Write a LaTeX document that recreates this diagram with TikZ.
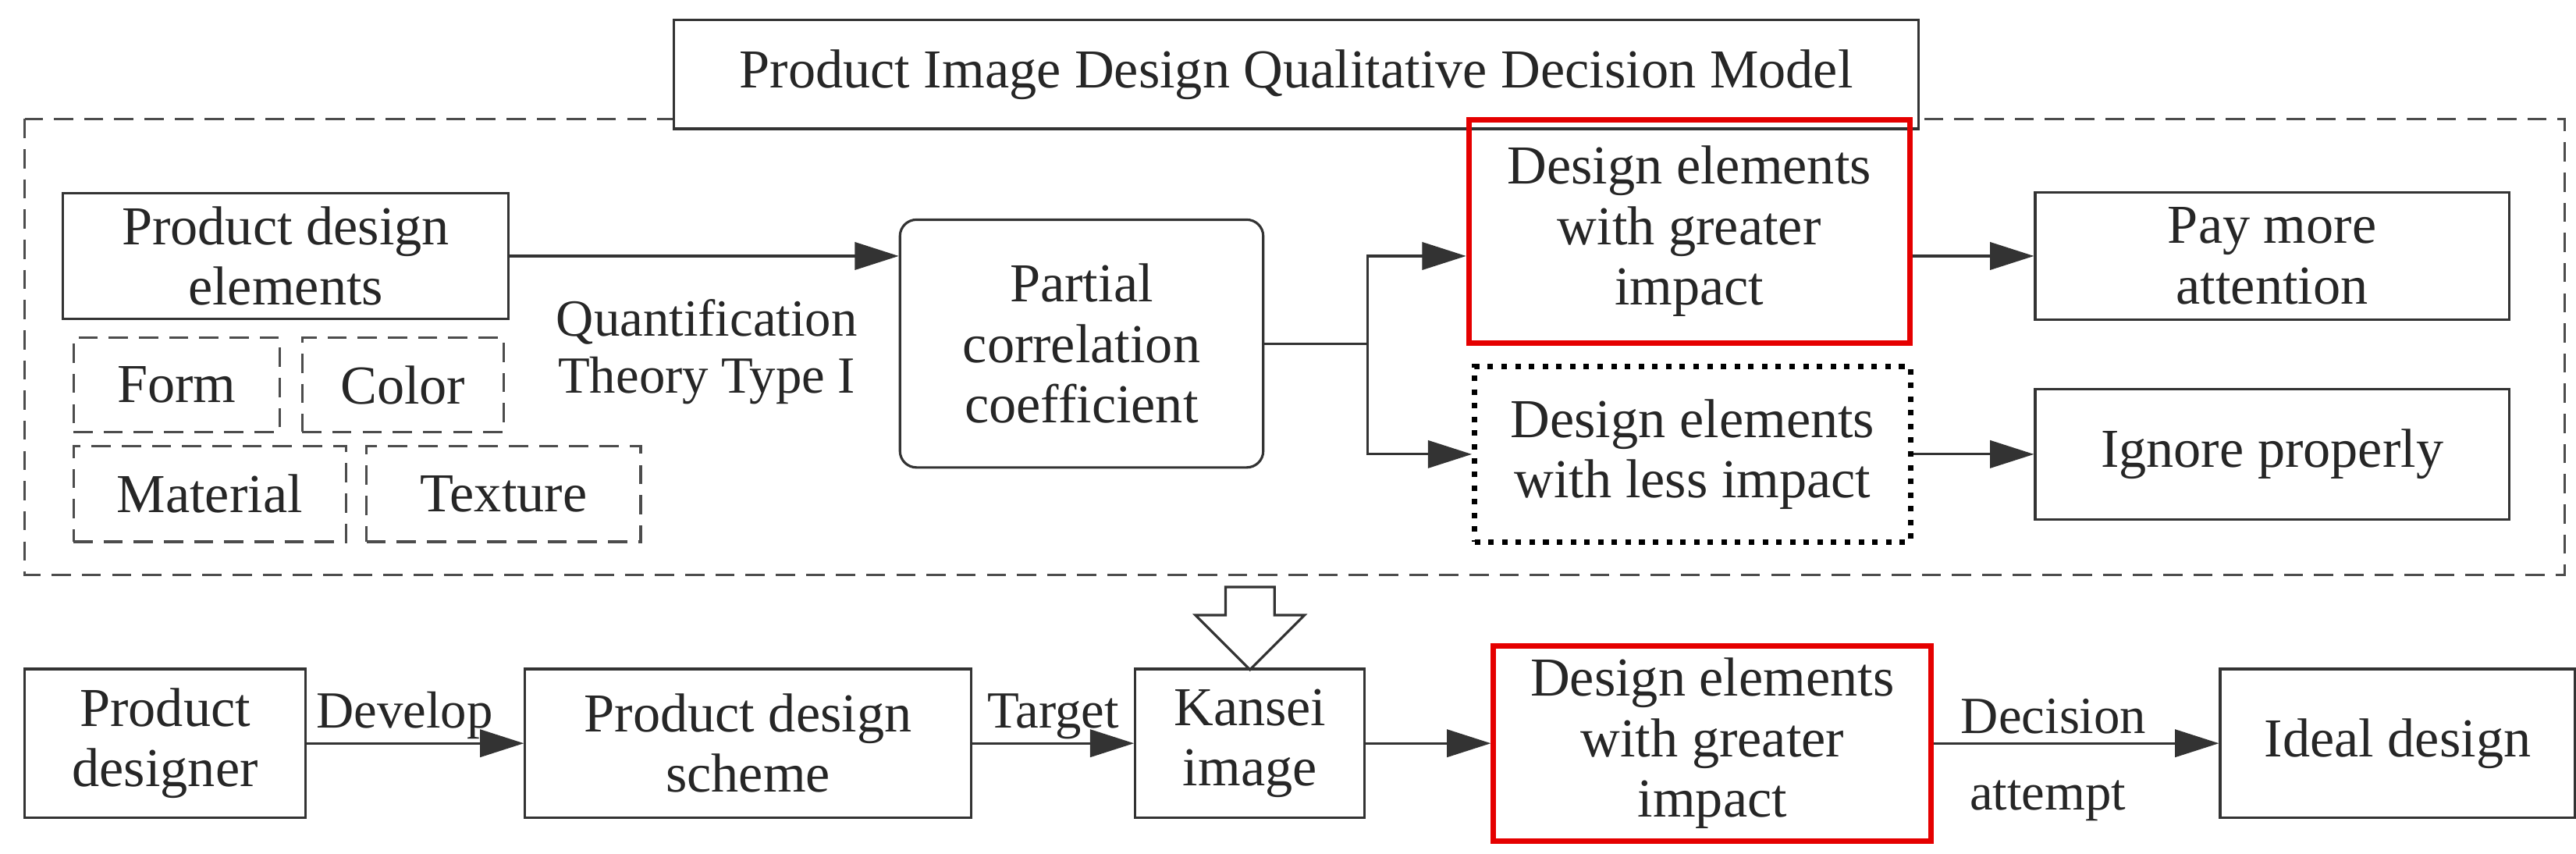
\documentclass[tikz,border=0pt]{standalone}
\usepackage{fontspec}
\setmainfont{Liberation Serif}
\usetikzlibrary{arrows.meta,shapes.arrows}
\begin{document}
\begin{tikzpicture}[x=0.02116cm,y=-0.02116cm,
  every node/.style={font=\fontsize{20}{22}\selectfont, align=center, text=black!85, inner sep=1pt},
  bx/.style={draw=black!80, line width=0.9pt},
  red/.style={draw=red!90!black, line width=2pt},
  ds/.style={draw=black!70, dash pattern=on 7pt off 4pt, line width=0.9pt},
  arr/.style={draw=black!80, line width=0.9pt, -{Triangle[length=16pt,width=10pt]}},
  lab/.style={font=\fontsize{19}{21}\selectfont}]
\useasboundingbox (0,0) rectangle (1560,517);
\draw[ds] (15,72) rectangle (1553,348);
\node[bx, fill=white, minimum width=754*0.02116cm, minimum height=66*0.02116cm] (title) at (785,45) {Product Image Design Qualitative Decision Model};
\node[bx, minimum width=270*0.02116cm, minimum height=76*0.02116cm] (pde) at (173,155) {Product design\\elements};
\node[ds, minimum width=125*0.02116cm, minimum height=57*0.02116cm] (form) at (107,233) {Form};
\node[ds, minimum width=122*0.02116cm, minimum height=57*0.02116cm] (color) at (244,233) {Color};
\node[ds, minimum width=165*0.02116cm, minimum height=58*0.02116cm] (mat) at (127,299) {Material};
\node[ds, minimum width=166*0.02116cm, minimum height=58*0.02116cm] (tex) at (305,299) {Texture};
\node[bx, rounded corners=6pt, minimum width=220*0.02116cm, minimum height=150*0.02116cm] (pcc) at (655,208) {Partial\\correlation\\coefficient};
\draw[arr] (pde.east) -- (pcc.west |- pde.east);
\node[lab] (qt) at (428,213) {Quantification\\Theory Type I};
\node[red, minimum width=267*0.02116cm, minimum height=135*0.02116cm] (dg) at (1023,140) {Design elements\\with greater\\impact};
\node[draw=black, line width=2pt, dash pattern=on 2pt off 3pt, minimum width=264*0.02116cm, minimum height=106*0.02116cm] (dl) at (1025,275) {Design elements\\with less impact};
\coordinate (br) at (828,208);
\draw[bx] (pcc.east) -- (br);
\draw[arr] (br) |- (dg.west |- 0,155);
\draw[arr] (br) |- (dl.west);
\node[bx, minimum width=287*0.02116cm, minimum height=77*0.02116cm] (pay) at (1376,155) {Pay more\\attention};
\node[bx, minimum width=287*0.02116cm, minimum height=79*0.02116cm] (ign) at (1376,275) {Ignore properly};
\draw[arr] (dg.east |- pay.west) -- (pay.west);
\draw[arr] (dl.east) -- (ign.west);
\node[single arrow, draw=black!80, line width=0.9pt, shape border rotate=270, minimum height=50*0.02116cm, minimum width=66*0.02116cm, single arrow head extend=3pt, inner sep=2pt] (big) at (757,373) {};
\node[bx, minimum width=170*0.02116cm, minimum height=90*0.02116cm] (pd) at (100,450) {Product\\designer};
\node[bx, minimum width=270*0.02116cm, minimum height=90*0.02116cm] (pds) at (453,450) {Product design\\scheme};
\node[bx, minimum width=139*0.02116cm, minimum height=90*0.02116cm] (ki) at (757,450) {Kansei\\image};
\node[red, minimum width=265*0.02116cm, minimum height=118*0.02116cm] (dg2) at (1037,450) {Design elements\\with greater\\impact};
\node[bx, minimum width=215*0.02116cm, minimum height=90*0.02116cm] (id) at (1452,450) {Ideal design};
\draw[arr] (pd) -- node[lab, above, pos=0.45] {Develop} (pds);
\draw[arr] (pds) -- node[lab, above, pos=0.5] {Target} (ki);
\draw[arr] (ki) -- (dg2);
\draw[arr] (dg2) -- node[lab, above, pos=0.42, yshift=2pt] {Decision} node[lab, below, pos=0.4, yshift=-12pt] {attempt} (id);
\end{tikzpicture}
\end{document}
